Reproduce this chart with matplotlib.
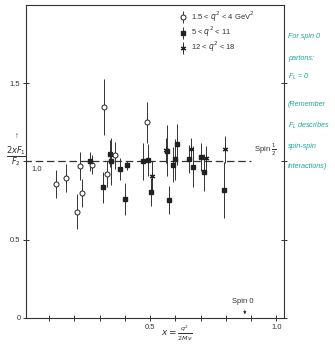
import numpy as np
import matplotlib
matplotlib.use('Agg')
import matplotlib.pyplot as plt
from matplotlib.lines import Line2D

plt.rcParams['font.family'] = ['Liberation Sans', 'DejaVu Sans']

# 1.5 < q^2 < 4 GeV^2  (open circles)
x_low = [0.127, 0.167, 0.212, 0.222, 0.230, 0.271, 0.316, 0.329, 0.362, 0.487]
y_low = [0.855, 0.893, 0.68, 0.97, 0.80, 0.98, 1.35, 0.92, 1.04, 1.25]
e_low = [0.09, 0.09, 0.11, 0.09, 0.09, 0.06, 0.18, 0.08, 0.085, 0.13]

# 5 < q^2 < 11  (filled)
x_mid = [0.262, 0.315, 0.340, 0.345, 0.382, 0.400, 0.407, 0.471, 0.492, 0.503,
         0.568, 0.573, 0.589, 0.599, 0.606, 0.653, 0.668, 0.700, 0.712, 0.791]
y_mid = [1.0, 0.835, 1.05, 1.0, 0.95, 0.76, 0.975, 1.0, 1.01, 0.806,
         1.07, 0.752, 0.98, 1.013, 1.11, 1.017, 0.966, 1.03, 0.93, 0.817]
e_mid = [0.06, 0.10, 0.085, 0.15, 0.07, 0.10, 0.03, 0.12, 0.10, 0.09,
         0.16, 0.09, 0.11, 0.13, 0.13, 0.09, 0.13, 0.09, 0.12, 0.18]

# 12 < q^2 < 18  (stars)
x_high = [0.509, 0.562, 0.661, 0.720, 0.798]
y_high = [0.906, 1.072, 1.077, 1.02, 1.077]
e_high = [0.10, 0.08, 0.07, 0.08, 0.085]

labels = [r'1.5 < $q^2$ < 4 GeV$^2$', r'5 < $q^2$ < 11', r'12 < $q^2$ < 18']

dark = '#333333'
fig = plt.figure(figsize=(3.35, 3.44), dpi=100)
ax = fig.add_axes([0.0776, 0.0756, 0.770, 0.910])

ebkw = dict(ls='none', ecolor=dark, elinewidth=0.7, capsize=0)
ax.errorbar(x_low, y_low, yerr=e_low, marker='o', ms=3.6, mfc='white',
            mec='#222222', mew=0.7, **ebkw)
ax.errorbar(x_mid, y_mid, yerr=e_mid, marker='s', ms=2.2, mfc='#222222',
            mec='#222222', **ebkw)
ax.errorbar(x_high, y_high, yerr=e_high, marker=(6, 2, 0), ms=4, mfc='#222222',
            mec='#222222', mew=0.8, **ebkw)

ax.plot([0, 0.9], [1.0, 1.0], ls=(0, (6, 3)), color=dark, lw=0.9)
ax.text(0.912, 1.02, r'Spin $\frac{1}{2}$', fontsize=5.5, color=dark,
        va='bottom')
ax.text(0.868, 0.085, 'Spin 0', fontsize=5.5, color=dark,
        ha='center', va='bottom')
ax.annotate('', xy=(0.875, 0.005), xytext=(0.875, 0.07),
            arrowprops=dict(arrowstyle='-|>', lw=0.5, color=dark,
                            mutation_scale=4))
ax.text(0.03, 0.97, '1.0', fontsize=5.5, color=dark, va='top')

ax.set_xlim(0.008, 1.03)
ax.set_ylim(0, 2.0)
ax.set_xticks(np.arange(1, 11) / 10)
ax.set_xticklabels(['', '', '', '', '0.5', '', '', '', '', '1.0'])
ax.set_yticks([0, 0.5, 1.0, 1.5])
ax.set_yticklabels(['0', '0.5', '', '1.5'])
ax.tick_params(axis='x', direction='inout', length=4, width=0.7,
               labelsize=5.5, colors=dark, pad=2)
ax.tick_params(axis='y', direction='inout', length=4, width=0.7,
               labelsize=5.5, colors=dark, right=True, pad=2)
for s in ax.spines.values():
    s.set_linewidth(0.8)
    s.set_color(dark)

bar = Line2D([], [], ls='none', marker='|', ms=8, mew=0.7, color=dark)
handles = [
    (bar, Line2D([], [], ls='none', marker='o', ms=3.6, mfc='white',
                 mec='#222222', mew=0.7)),
    (bar, Line2D([], [], ls='none', marker='s', ms=2.2, mfc='#222222',
                 mec='#222222')),
    (bar, Line2D([], [], ls='none', marker=(6, 2, 0), ms=4, mfc='#222222',
                 mec='#222222', mew=0.8)),
]
leg = ax.legend(handles, labels, loc='upper left', bbox_to_anchor=(0.6, 0.985),
                frameon=False, fontsize=5.5, handlelength=0.6,
                handletextpad=0.8, labelspacing=0.1, borderpad=0,
                borderaxespad=0)
for t in leg.get_texts():
    t.set_color(dark)

# y label
fig.text(16.5 / 335, 1 - 136 / 344, '↑', fontsize=5.5, ha='center',
         va='center', color=dark)
fig.text(16 / 335, 1 - 157 / 344, r'$\frac{2xF_1}{F_2}$', fontsize=8.5,
         ha='center', va='center', color=dark)
# x label
fig.text(177 / 335, 1 - 333 / 344, r'$x = \frac{q^2}{2M\nu}$', fontsize=6.5,
         ha='center', va='center', color=dark)

# handwritten notes at the right
notes = ['For spin 0', 'partons:', r'$F_L$ = 0', '(Remember',
         r'$F_L$ describes', 'spin-spin', 'interactions)']
note_y = [37, 58, 77, 105, 126, 147, 166]
for txt, py in zip(notes, note_y):
    fig.text(288 / 335, 1 - py / 344, txt, fontsize=5.2, style='italic',
             color='#1fa898', va='center')

fig.savefig('out.png', dpi=100)
